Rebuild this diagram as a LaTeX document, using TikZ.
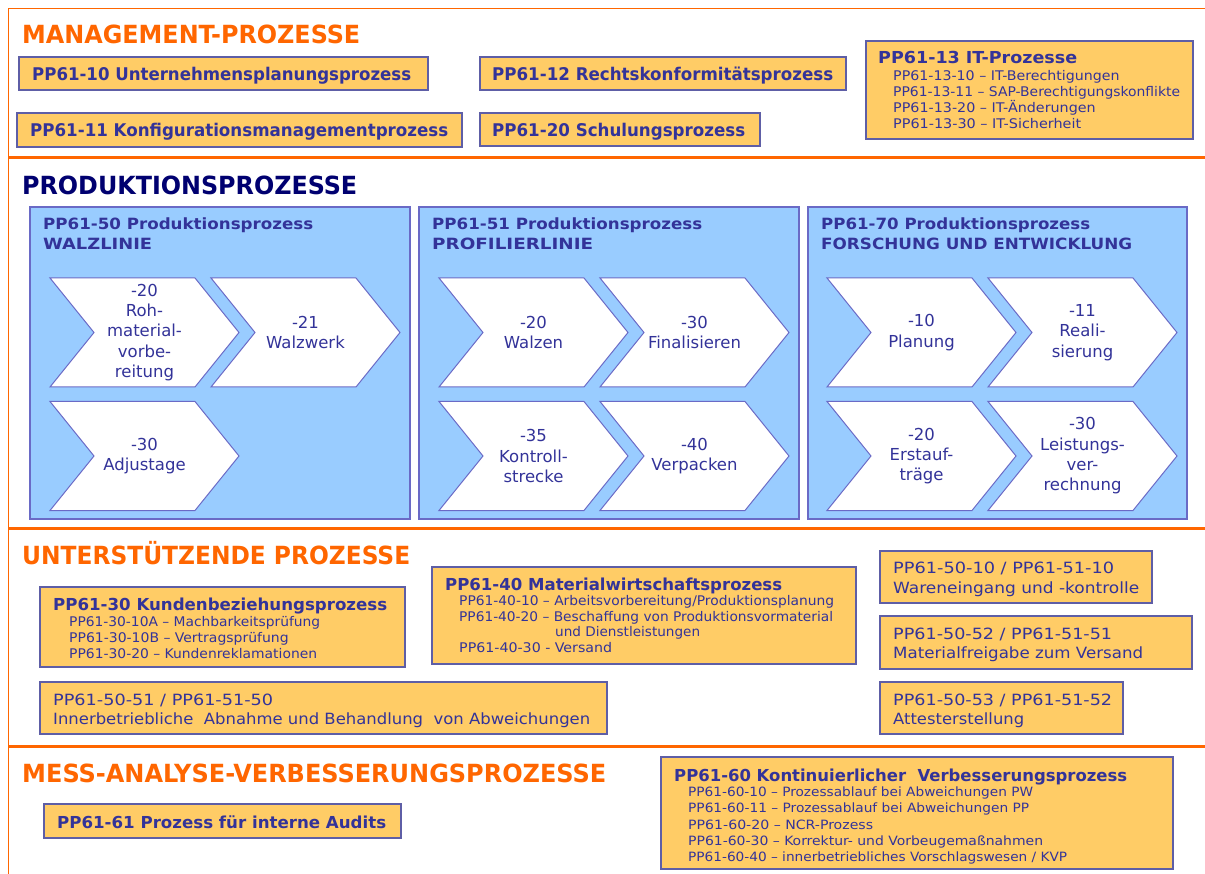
\documentclass[tikz,border=0pt]{standalone}
\usepackage{fontspec}
\usepackage{graphicx}
\setmainfont{DejaVu Sans Condensed}
\newfontfamily\verd{DejaVu Sans}
\definecolor{orng}{HTML}{FF6600}
\definecolor{bfill}{HTML}{FFCC66}
\definecolor{bline}{HTML}{5E5EA6}
\definecolor{tnavy}{HTML}{333399}
\definecolor{dnavy}{HTML}{000070}
\definecolor{pfill}{HTML}{99CCFF}
\definecolor{pline}{HTML}{6A6AC6}
\newsavebox\fitbox
\newcommand\fitx[2]{\sbox\fitbox{#2}\edef\fitw{\the\wd\fitbox}\pgfmathsetmacro\fitfac{#1/\fitw}\scalebox{\fitfac}[1]{\usebox\fitbox}}
\newcommand\boxnode[6]{\node[#6, minimum width={(#4-#2)*1pt}, minimum height={(#5-#3)*1pt}] (#1) at ({(#2+#4)/2},{(#3+#5)/2}) {};}
\newcommand\chevron[4]{%
  \draw[chev] (#2,#3) -- ++(145,0) -- ++(44,54.5) -- ++(-44,54.5) -- ++(-145,0) -- ++(44,-54.5) -- cycle;
  \node[chevtxt] (#1) at ({#2+94.5},{#3+54.5}) {#4};}
\newcommand\tx[6]{\node[#1] (#2) at (#3,#4) {\fitx{#5}{#6}};}
\tikzset{
  oline/.style={draw=orng, line width=3pt},
  olinethin/.style={draw=orng, line width=1.6pt},
  obox/.style={draw=bline, fill=bfill, line width=1.2pt, inner sep=0pt},
  panel/.style={draw=pline, fill=pfill, line width=1.2pt, inner sep=0pt},
  chev/.style={draw=pline, fill=white, line width=1pt, line join=miter},
  sect/.style={anchor=base west, inner sep=0pt, text=orng, font=\fontsize{25}{30}\selectfont\bfseries},
  bt/.style={anchor=base west, inner sep=0pt, text=tnavy, font=\fontsize{17.5}{21}\selectfont\bfseries},
  bts/.style={anchor=base west, inner sep=0pt, text=tnavy, font=\fontsize{16.5}{20}\selectfont\bfseries},
  sub/.style={anchor=base west, inner sep=0pt, text=tnavy, font=\fontsize{13.3}{16}\selectfont},
  subs/.style={anchor=base west, inner sep=0pt, text=tnavy, font=\fontsize{12.8}{16}\selectfont},
  vt/.style={anchor=base west, inner sep=0pt, text=tnavy, font=\verd\fontsize{15.5}{19}\selectfont},
  ptt/.style={anchor=base west, inner sep=0pt, text=tnavy, font=\verd\fontsize{15.5}{19}\selectfont\bfseries},
  chevtxt/.style={align=center, inner sep=0pt, text=tnavy, font=\verd\fontsize{16.5}{20.3}\selectfont},
}
\begin{document}
\begin{tikzpicture}[x=1pt,y=-1pt]
\useasboundingbox (0,0) rectangle (1205,874);
% frame
\draw[olinethin] (8.5,874) -- (8.5,8.5) -- (1205,8.5);
\draw[oline] (8,158) -- (1205,158);
\draw[oline] (8,528) -- (1205,528);
\draw[oline] (8,746) -- (1205,746);

% ===== Management
\tx{sect}{s1}{22}{43.3}{338}{MANAGEMENT-PROZESSE}
\boxnode{b10}{19}{57}{428}{90}{obox}
\boxnode{b11}{17}{113}{462}{147}{obox}
\boxnode{b12}{480}{57}{846}{90}{obox}
\boxnode{b20}{480}{113}{760}{146}{obox}
\boxnode{b13}{866}{41}{1193}{139}{obox}
\tx{bt}{t10}{32}{81}{379}{PP61-10 Unternehmensplanungsprozess}
\tx{bt}{t11}{30}{137}{418}{PP61-11 Konfigurationsmanagementprozess}
\tx{bt}{t12}{492}{81}{341}{PP61-12 Rechtskonformitätsprozess}
\tx{bt}{t20}{492}{137}{253}{PP61-20 Schulungsprozess}
\tx{bts}{t13}{878}{64}{199}{PP61-13 IT-Prozesse}
\tx{sub}{t13a}{893}{80.7}{226.5}{PP61-13-10 – IT-Berechtigungen}
\tx{sub}{t13b}{893}{96.7}{287}{PP61-13-11 – SAP-Berechtigungskonflikte}
\tx{sub}{t13c}{893}{112.7}{202.6}{PP61-13-20 – IT-Änderungen}
\tx{sub}{t13d}{893}{129}{188}{PP61-13-30 – IT-Sicherheit}

% ===== Produktion
\node[sect, text=dnavy] (s2) at (22,195) {\fitx{335}{PRODUKTIONSPROZESSE}};
\boxnode{p50}{30}{207}{410}{519}{panel}
\boxnode{p51}{419}{207}{799}{519}{panel}
\boxnode{p70}{808}{207}{1187}{519}{panel}
\tx{ptt}{p50a}{43}{230}{270}{PP61-50 Produktionsprozess}
\tx{ptt}{p50b}{43}{249.3}{109}{WALZLINIE}
\tx{ptt}{p51a}{432}{230}{270}{PP61-51 Produktionsprozess}
\tx{ptt}{p51b}{432}{249.3}{161}{PROFILIERLINIE}
\tx{ptt}{p70a}{821}{230}{269}{PP61-70 Produktionsprozess}
\tx{ptt}{p70b}{821}{249.3}{311}{FORSCHUNG UND ENTWICKLUNG}

\chevron{c5020}{50}{278}{-20\\Roh-\\material-\\vorbe-\\reitung}
\chevron{c5021}{211}{278}{-21\\Walzwerk}
\chevron{c5030}{50}{401.5}{-30\\Adjustage}
\chevron{c5120}{439}{278}{-20\\Walzen}
\chevron{c5130}{600}{278}{-30\\Finalisieren}
\chevron{c5135}{439}{401.5}{-35\\Kontroll-\\strecke}
\chevron{c5140}{600}{401.5}{-40\\Verpacken}
\chevron{c7010}{827}{278}{-10\\Planung}
\chevron{c7011}{988}{278}{-11\\Reali-\\sierung}
\chevron{c7020}{827}{401.5}{-20\\Erstauf-\\träge}
\chevron{c7030}{988}{401.5}{-30\\Leistungs-\\ver-\\rechnung}

% ===== Unterstuetzende
\tx{sect}{s3}{22}{564}{388}{UNTERSTÜTZENDE PROZESSE}
\boxnode{b30}{40}{587}{405}{667}{obox}
\boxnode{b40}{432}{567}{856}{664}{obox}
\boxnode{r1}{880}{551}{1152}{603}{obox}
\boxnode{r2}{880}{616}{1192}{669}{obox}
\boxnode{r3}{880}{682}{1123}{734}{obox}
\boxnode{b5051}{40}{682}{607}{734}{obox}
\tx{bts}{t30}{53}{610}{334}{PP61-30 Kundenbeziehungsprozess}
\tx{sub}{t30a}{69}{626.7}{251}{PP61-30-10A – Machbarkeitsprüfung}
\tx{sub}{t30b}{69}{642.7}{219.5}{PP61-30-10B – Vertragsprüfung}
\tx{sub}{t30c}{69}{658.3}{248}{PP61-30-20 – Kundenreklamationen}
\tx{bts}{t40}{445}{590}{337}{PP61-40 Materialwirtschaftsprozess}
\tx{sub}{t40a}{459}{605}{375}{PP61-40-10 – Arbeitsvorbereitung/Produktionsplanung}
\tx{sub}{t40b}{459}{621}{374}{PP61-40-20 – Beschaffung von Produktionsvormaterial}
\tx{sub}{t40c}{555}{636.5}{145}{und Dienstleistungen}
\tx{sub}{t40d}{459}{652.7}{153}{PP61-40-30 - Versand}
\tx{vt}{r1a}{893}{573}{221}{PP61-50-10 / PP61-51-10}
\tx{vt}{r1b}{893}{593}{246}{Wareneingang und -kontrolle}
\tx{vt}{r2a}{893}{639}{219}{PP61-50-52 / PP61-51-51}
\tx{vt}{r2b}{893}{658}{250}{Materialfreigabe zum Versand}
\tx{vt}{r3a}{893}{705}{219}{PP61-50-53 / PP61-51-52}
\tx{vt}{r3b}{893}{724}{131}{Attesterstellung}
\tx{vt}{t5051a}{53}{705}{220}{PP61-50-51 / PP61-51-50}
\tx{vt}{t5051b}{53}{724}{537}{Innerbetriebliche\ \ Abnahme und Behandlung\ \ von Abweichungen}

% ===== Mess-Analyse
\tx{sect}{s4}{22}{782}{584}{MESS-ANALYSE-VERBESSERUNGSPROZESSE}
\boxnode{b61}{44}{804}{401}{838}{obox}
\boxnode{b60}{661}{757}{1173}{869}{obox}
\tx{bts}{t61}{57}{828}{329}{PP61-61 Prozess für interne Audits}
\tx{bts}{t60}{674}{781}{453}{PP61-60 Kontinuierlicher\ \ Verbesserungsprozess}
\tx{subs}{t60a}{688}{796}{345}{PP61-60-10 – Prozessablauf bei Abweichungen PW}
\tx{subs}{t60b}{688}{812}{341}{PP61-60-11 – Prozessablauf bei Abweichungen PP}
\tx{subs}{t60c}{688}{829}{185}{PP61-60-20 – NCR-Prozess}
\tx{subs}{t60d}{688}{845.7}{355}{PP61-60-30 – Korrektur- und Vorbeugemaßnahmen}
\tx{subs}{t60e}{688}{861.5}{379}{PP61-60-40 – innerbetriebliches Vorschlagswesen / KVP}
\end{tikzpicture}
\end{document}
